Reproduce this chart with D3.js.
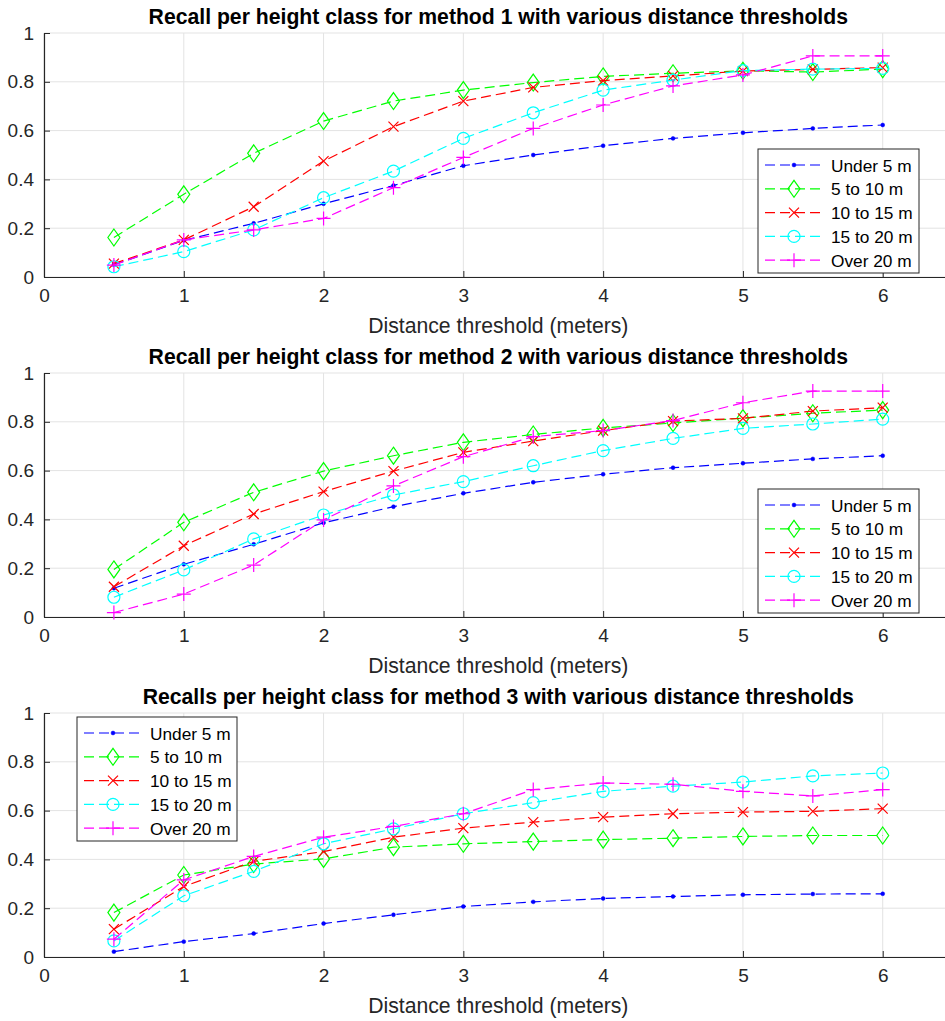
<!DOCTYPE html>
<html>
<head>
<meta charset="utf-8">
<style>
body { margin: 0; background: #fff; }
svg { display: block; font-family: "Liberation Sans", Arial, Helvetica, sans-serif; }
.grid line { stroke: #e3e3e3; stroke-width: 1; }
.axis path, .axis line { stroke: #262626; }
.axis text { fill: #262626; }
.series path.line { fill: none; stroke-width: 1.2; stroke-dasharray: 10,5; }
</style>
</head>
<body>
<svg width="945" height="1021"></svg>
<script src="https://cdn.jsdelivr.net/npm/d3@7"></script>
<script>
// distance thresholds (meters)
var thresholds = [0.5, 1, 1.5, 2, 2.5, 3, 3.5, 4, 4.5, 5, 5.5, 6];
var classNames = ["Under 5 m", "5 to 10 m", "10 to 15 m", "15 to 20 m", "Over 20 m"];
var classColors = ["#0000ff", "#00ff00", "#ff0000", "#00ffff", "#ff00ff"];
var classMarkers = ["dot", "diamond", "x", "circle", "plus"];
var yTicks = [0, 0.2, 0.4, 0.6, 0.8, 1];
var xTicks = [0, 1, 2, 3, 4, 5, 6];

// method 1
var m1Under5  = [0.05, 0.15, 0.22, 0.30, 0.375, 0.456, 0.50, 0.538, 0.568, 0.591, 0.609, 0.623];
var m1From5   = [0.162, 0.339, 0.507, 0.639, 0.721, 0.766, 0.797, 0.822, 0.835, 0.845, 0.84, 0.852];
var m1From10  = [0.055, 0.152, 0.288, 0.475, 0.616, 0.721, 0.777, 0.805, 0.824, 0.844, 0.851, 0.858];
var m1From15  = [0.042, 0.104, 0.193, 0.325, 0.434, 0.568, 0.673, 0.766, 0.807, 0.846, 0.852, 0.855];
var m1Over20  = [0.049, 0.152, 0.193, 0.24, 0.366, 0.49, 0.609, 0.705, 0.783, 0.828, 0.906, 0.906];

// method 2
var m2Under5  = [0.118, 0.216, 0.298, 0.386, 0.452, 0.507, 0.552, 0.585, 0.612, 0.630, 0.648, 0.661];
var m2From5   = [0.195, 0.388, 0.511, 0.598, 0.661, 0.716, 0.748, 0.775, 0.795, 0.815, 0.835, 0.848];
var m2From10  = [0.124, 0.292, 0.422, 0.514, 0.598, 0.675, 0.721, 0.764, 0.803, 0.814, 0.844, 0.858];
var m2From15  = [0.081, 0.193, 0.32, 0.418, 0.50, 0.555, 0.620, 0.682, 0.732, 0.773, 0.791, 0.811];
var m2Over20  = [0.018, 0.094, 0.213, 0.398, 0.537, 0.657, 0.739, 0.764, 0.805, 0.878, 0.926, 0.926];

// method 3
var m3Under5  = [0.022, 0.063, 0.096, 0.137, 0.173, 0.207, 0.226, 0.240, 0.248, 0.255, 0.258, 0.259];
var m3From5   = [0.182, 0.336, 0.381, 0.402, 0.45, 0.464, 0.473, 0.481, 0.487, 0.494, 0.498, 0.498];
var m3From10  = [0.114, 0.289, 0.392, 0.432, 0.491, 0.528, 0.553, 0.573, 0.587, 0.594, 0.597, 0.608];
var m3From15  = [0.066, 0.251, 0.351, 0.464, 0.525, 0.587, 0.633, 0.679, 0.70, 0.717, 0.742, 0.754];
var m3Over20  = [0.073, 0.316, 0.412, 0.491, 0.535, 0.587, 0.686, 0.713, 0.708, 0.679, 0.66, 0.686];

var panels = [
  { title: "Recall per height class for method 1 with various distance thresholds",
    series: [m1Under5, m1From5, m1From10, m1From15, m1Over20],
    top: 33, legend: { x: 758, y: 149, w: 161 } },
  { title: "Recall per height class for method 2 with various distance thresholds",
    series: [m2Under5, m2From5, m2From10, m2From15, m2Over20],
    top: 373, legend: { x: 758, y: 489, w: 161 } },
  { title: "Recalls per height class for method 3 with various distance thresholds",
    series: [m3Under5, m3From5, m3From10, m3From15, m3Over20],
    top: 713, legend: { x: 77, y: 717, w: 160 } }
];

var svg = d3.select("svg");
var left = 44, right = 952.6, plotH = 244;

var x = d3.scaleLinear().domain([0, 6.5]).range([left, right]);

function markerPath(type) {
  switch (type) {
    case "diamond": return "M0,-8.5L6,0L0,8.5L-6,0Z";
    case "x": return "M-5,-5L5,5M-5,5L5,-5";
    case "plus": return "M-7,0L7,0M0,-7L0,7";
    case "circle": return d3.symbol(d3.symbolCircle, 113)();
    default: return d3.symbol(d3.symbolCircle, 12)();
  }
}

function drawMarker(g, type, color) {
  g.append("path")
      .attr("d", markerPath(type))
      .attr("fill", type == "dot" ? color : "none")
      .attr("stroke", color)
      .attr("stroke-width", type == "dot" ? 0.5 : 1.2);
}

panels.forEach(function(p) {
  var y = d3.scaleLinear().domain([0, 1]).range([p.top + plotH, p.top]);
  var g = svg.append("g");

  // grid
  var grid = g.append("g").attr("class", "grid");
  grid.selectAll(".gx").data(xTicks).enter().append("line")
      .attr("x1", function(d) { return x(d); }).attr("x2", function(d) { return x(d); })
      .attr("y1", y(0)).attr("y2", y(1));
  grid.selectAll(".gy").data(yTicks).enter().append("line")
      .attr("x1", left).attr("x2", right)
      .attr("y1", function(d) { return y(d); }).attr("y2", function(d) { return y(d); });

  // axes
  g.append("g")
      .attr("class", "axis")
      .attr("transform", "translate(0," + y(0) + ")")
      .call(d3.axisBottom(x).tickValues(xTicks).tickFormat(d3.format("d")).tickSizeInner(-6).tickSizeOuter(0).tickPadding(12))
      .call(function(a) { a.select(".domain").attr("stroke-width", 1.2); });

  g.append("g")
      .attr("class", "axis")
      .attr("transform", "translate(" + left + ",0)")
      .call(d3.axisLeft(y).tickValues(yTicks).tickFormat(function(d) { return d == 0 || d == 1 ? d : d3.format(".1f")(d); }).tickSizeInner(-6).tickSizeOuter(0).tickPadding(10))
      .call(function(a) { a.select(".domain").attr("stroke-width", 1.2); });

  g.selectAll(".axis text").attr("font-size", null).style("font-size", "19px");

  // title
  g.append("text")
      .attr("x", (left + right) / 2)
      .attr("y", p.top - 9)
      .attr("text-anchor", "middle")
      .style("font-size", "21.2px")
      .style("font-weight", "bold")
      .attr("fill", "#000")
      .text(p.title);

  // x label
  g.append("text")
      .attr("x", (left + right) / 2)
      .attr("y", p.top + plotH + 56)
      .attr("text-anchor", "middle")
      .style("font-size", "21.2px")
      .attr("fill", "#262626")
      .text("Distance threshold (meters)");

  // series
  var line = d3.line()
      .x(function(d, i) { return x(thresholds[i]); })
      .y(function(d) { return y(d); });

  p.series.forEach(function(vals, k) {
    var s = g.append("g").attr("class", "series");
    s.append("path")
        .attr("class", "line")
        .attr("d", line(vals))
        .attr("stroke", classColors[k]);
    vals.forEach(function(v, i) {
      var m = s.append("g").attr("transform", "translate(" + x(thresholds[i]) + "," + y(v) + ")");
      drawMarker(m, classMarkers[k], classColors[k]);
    });
  });

  // legend
  var L = p.legend, rowH = 23.8;
  var lg = g.append("g").attr("transform", "translate(" + L.x + "," + L.y + ")");
  lg.append("rect")
      .attr("width", L.w).attr("height", rowH * 5 + 5)
      .attr("fill", "#fff").attr("stroke", "#262626").attr("stroke-width", 1);
  classNames.forEach(function(name, k) {
    var ry = 16 + k * rowH;
    lg.append("line")
        .attr("x1", 7).attr("x2", 66).attr("y1", ry).attr("y2", ry)
        .attr("stroke", classColors[k]).attr("stroke-width", 1.2)
        .attr("stroke-dasharray", "10,5");
    var m = lg.append("g").attr("transform", "translate(36," + ry + ")");
    drawMarker(m, classMarkers[k], classColors[k]);
    lg.append("text")
        .attr("x", 73).attr("y", ry + 6.5)
        .style("font-size", "17.3px")
        .attr("fill", "#000")
        .text(name);
  });
});
</script>
</body>
</html>
